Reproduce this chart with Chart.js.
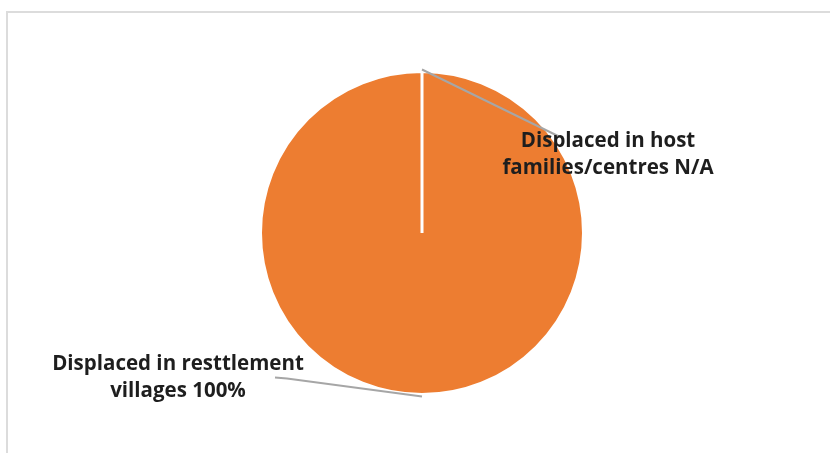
<!DOCTYPE html>
<html>
<head>
<meta charset="utf-8">
<script src="https://cdn.jsdelivr.net/npm/chart.js@4/dist/chart.umd.min.js"></script>
<style>
  html, body { margin: 0; padding: 0; background: #fff; }
  #wrap { position: relative; width: 830px; height: 453px; overflow: hidden; }
  #marco { position: absolute; left: 6px; top: 11px; width: 900px; height: 600px; border: 2px solid #dcdcdc; box-sizing: border-box; }
  #grafica { position: absolute; left: 0; top: 0; }
</style>
</head>
<body>
<div id="wrap">
  <div id="marco"></div>
  <canvas id="grafica" width="830" height="453"></canvas>
</div>
<script>
// datos del grafico
const categorias = ['Displaced in resttlement villages', 'Displaced in host families/centres'];
const valores = [100, 0];
const textoValor = ['100%', 'N/A'];
// como se parte cada etiqueta en renglones
const renglones = [
    ['Displaced in resttlement', 'villages ' + textoValor[0]],
    ['Displaced in host', 'families/centres ' + textoValor[1]]
];

// etiquetas con linea guia, a partir del angulo medio de cada rebanada
const etiquetasPlugin = {
    id: 'etiquetas',
    afterDatasetsDraw(chart) {
        const ctx = chart.ctx;
        const arcos = chart.getDatasetMeta(0).data;
        // desplazamientos de cada etiqueta respecto al punto de salida
        const cfg = [
            { codo: [-135, -18], fin: [-147, -19], texto: [-244, -32] },
            { codo: [137, 67], fin: [137, 67], texto: [186, 72] }
        ];
        ctx.save();
        arcos.forEach((arco, i) => {
            const p = arco.getProps(['x', 'y', 'startAngle', 'endAngle', 'outerRadius'], true);
            const ang = (p.startAngle + p.endAngle) / 2;
            const x0 = p.x + Math.cos(ang) * (p.outerRadius + 2);
            const y0 = p.y + Math.sin(ang) * (p.outerRadius + 2);
            const c = cfg[i];
            ctx.strokeStyle = '#a6a6a6';
            ctx.lineWidth = 2;
            ctx.beginPath();
            ctx.moveTo(x0, y0);
            ctx.lineTo(x0 + c.codo[0], y0 + c.codo[1]);
            ctx.lineTo(x0 + c.fin[0], y0 + c.fin[1]);
            ctx.stroke();

            ctx.fillStyle = '#1e1e1e';
            ctx.font = 'bold 20.5px "Open Sans"';
            ctx.textAlign = 'center';
            ctx.textBaseline = 'middle';
            renglones[i].forEach((r, j) => {
                ctx.fillText(r, x0 + c.texto[0], y0 + c.texto[1] + j * 27);
            });
        });
        ctx.restore();
    }
};

const ctx = document.getElementById('grafica');
new Chart(ctx, {
    type: 'pie',
    data: {
        labels: categorias,
        datasets: [{
            data: valores,
            backgroundColor: ['#ED7D31', '#A5A5A5'],
            borderColor: '#ffffff',
            borderWidth: 3
        }]
    },
    options: {
        responsive: false,
        animation: false,
        layout: { padding: { left: 259, right: 245, top: 70, bottom: 57 } },
        plugins: {
            legend: { display: false },
            tooltip: { enabled: false }
        }
    },
    plugins: [etiquetasPlugin]
});
</script>
</body>
</html>
